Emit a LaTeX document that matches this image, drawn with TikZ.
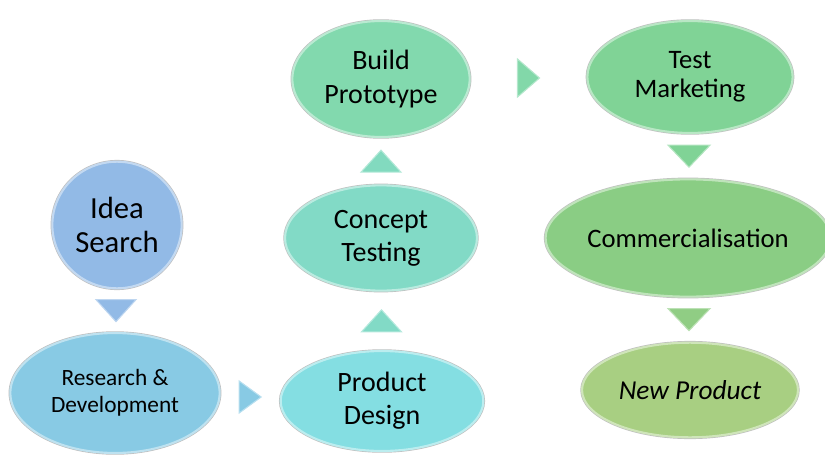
\documentclass[tikz,border=0pt]{standalone}
\usepackage{fontspec}
\setmainfont{Carlito}
\usetikzlibrary{shapes.geometric, calc}
\definecolor{ideablue}{RGB}{146,186,230}
\definecolor{rndblue}{RGB}{136,202,228}
\definecolor{designcyan}{RGB}{132,222,226}
\definecolor{conceptteal}{RGB}{130,218,198}
\definecolor{protogreen}{RGB}{130,217,174}
\definecolor{testgreen}{RGB}{128,211,150}
\definecolor{commgreen}{RGB}{138,205,132}
\definecolor{newgreen}{RGB}{168,207,130}

% triangle between two anchors: from, to, angle, colour, half base
\newcommand{\pointer}[5]{%
   \path ($(#1)!0.5!(#2)$) coordinate (mid);
   \begin{scope}[shift={(mid)}, rotate=#3]
      \filldraw[tri=#4] (-11,#5) -- (-11,-#5) -- (11,0) -- cycle;
   \end{scope}}

\begin{document}
\begin{tikzpicture}[x=0.75pt, y=0.75pt,
      stage/.style={
         % The shape:
         ellipse, inner sep=0pt,
         % The filling and the rim
         fill=#1, draw=#1!55!white, line width=1.6pt,
         preaction={draw=black!25, line width=2.6pt},
         % Font
         align=center, font=\fontsize{21}{25}\selectfont},
      tri/.style={fill=#1, draw=#1!60!white, line width=0.8pt}]
   \useasboundingbox (0,0) rectangle (825,455);

   % left column
   \node[stage=ideablue, minimum width=97pt, minimum height=95pt,
         font=\fontsize{23}{25}\selectfont] (idea) at (117,230) {Idea\\Search};
   \node[stage=rndblue, minimum width=157pt, minimum height=90pt,
         font=\fontsize{17.5}{20.5}\selectfont] (rnd) at (115,62) {Research \&\\Development};

   % middle column
   \node[stage=designcyan, minimum width=152pt, minimum height=75pt] (design) at (382,54) {Product\\Design};
   \node[stage=conceptteal, minimum width=144pt, minimum height=79pt] (concept) at (381,217) {Concept\\Testing};
   \node[stage=protogreen, minimum width=133pt, minimum height=87pt] (proto) at (381,376) {Build\\Prototype};

   % right column
   \node[stage=testgreen, minimum width=154pt, minimum height=84pt,
         font=\fontsize{20}{22}\selectfont] (market) at (690,378) {Test\\Marketing};
   \node[stage=commgreen, minimum width=210pt, minimum height=88pt,
         font=\fontsize{20}{24}\selectfont] (comm) at (688,217) {Commercialisation};
   \node[stage=newgreen, minimum width=162pt, minimum height=71pt,
         font=\fontsize{20.5}{24}\itshape] (newprod) at (690,65) {New Product};

   % the pointers between the stages
   \pointer{idea.south}{rnd.north}{-90}{ideablue}{20}
   \pointer{rnd.east}{design.west}{0}{rndblue}{16}
   \pointer{design.north}{concept.south}{90}{conceptteal}{20}
   \pointer{concept.north}{proto.south}{90}{conceptteal!70!protogreen}{20}
   \pointer{proto.east}{market.west}{0}{protogreen!80!testgreen}{19}
   \pointer{market.south}{comm.north}{-90}{testgreen}{21}
   \pointer{comm.south}{newprod.north}{-90}{commgreen!80!newgreen}{21}
\end{tikzpicture}
\end{document}
